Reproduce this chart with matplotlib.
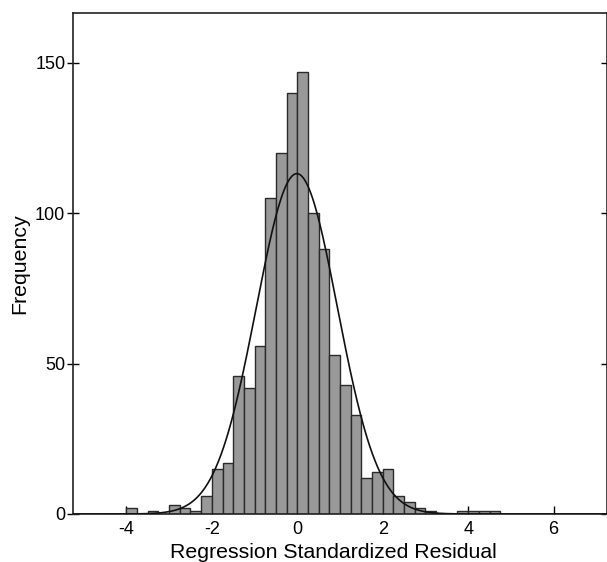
import numpy as np
import matplotlib
matplotlib.use("Agg")
import matplotlib.pyplot as plt

# histogram of standardized residuals, bin width 0.25
bin_edges = np.arange(-4.0, 4.75 + 0.001, 0.25)
counts = [2, 0, 1, 0, 3, 2, 1, 6,          # -4.0 .. -2.0
          15, 17, 46, 42, 56, 105, 120, 140,  # -2.0 .. 0.0
          147, 100, 88, 53, 43, 33, 12, 14,   # 0.0 .. 2.0
          15, 6, 4, 2, 1, 0, 0, 1,            # 2.0 .. 4.0
          1, 1, 1]                            # 4.0 .. 4.75

# fitted normal curve parameters
curve_mean = -0.01
curve_sd = 0.95
n_obs = sum(counts)
bin_w = 0.25

xticks = [-4, -2, 0, 2, 4, 6]
yticks = [0, 50, 100, 150]

plt.rcParams['font.family'] = ['Liberation Sans', 'DejaVu Sans']

fig = plt.figure(figsize=(6.07, 5.62), dpi=100)
ax = fig.add_axes([73/607, 48/562, (607-73)/607, (514-13)/562])

ax.bar(bin_edges[:-1], counts, width=bin_w, align='edge',
       color='#999999', edgecolor='#2a2a2a', linewidth=1.0, zorder=2)

xs = np.linspace(-5.25, 7.25, 600)
ys = n_obs * bin_w / (curve_sd * np.sqrt(2 * np.pi)) * np.exp(-0.5 * ((xs - curve_mean) / curve_sd) ** 2)
ax.plot(xs, ys, color='#111111', linewidth=1.2, zorder=3)

ax.set_xlim(-5.25, 7.25)
ax.set_ylim(0, 166.6)
ax.set_xticks(xticks)
ax.set_xticklabels([str(t) for t in xticks])
ax.set_yticks(yticks)

ax.tick_params(axis='x', direction='in', length=6, width=1, pad=5, labelsize=13)
ax.tick_params(axis='y', direction='inout', length=8, width=1, pad=1.5, labelsize=13,
               right=True)
for s in ax.spines.values():
    s.set_linewidth(1.2)
    s.set_color('#222222')

ax.set_xlabel('Regression Standardized Residual', fontsize=15.3, labelpad=3)
ax.set_ylabel('Frequency', fontsize=15.3, labelpad=4)
ax.xaxis.set_label_coords(0.487, -0.058)

fig.savefig('out.png', dpi=100)
